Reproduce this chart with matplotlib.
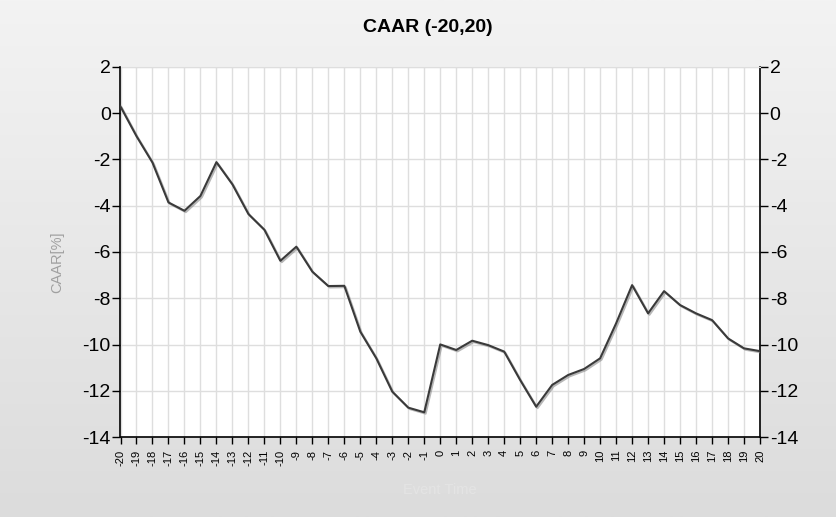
import numpy as np
import matplotlib
matplotlib.use("Agg")
import matplotlib.pyplot as plt
import matplotlib.patheffects as pe

event_time = list(range(-20, 21))
caar = [0.28, -1.0, -2.14, -3.86, -4.22, -3.58, -2.12, -3.08, -4.36, -5.04,
        -6.38, -5.77, -6.85, -7.47, -7.46, -9.44, -10.59, -12.03, -12.72, -12.92,
        -9.99, -10.23, -9.83, -10.02, -10.3, -11.53, -12.68, -11.74, -11.31, -11.05,
        -10.59, -9.08, -7.43, -8.65, -7.69, -8.29, -8.65, -8.94, -9.73, -10.16, -10.28]
y_ticks = [2, 0, -2, -4, -6, -8, -10, -12, -14]

plt.rcParams['font.family'] = ['Liberation Sans', 'DejaVu Sans']

W, H = 837, 517
fig = plt.figure(figsize=(W / 100, H / 100), dpi=100)

# background gradient
bg = fig.add_axes([0, 0, 1, 1], zorder=-10)
grad = np.linspace(0, 1, 256).reshape(-1, 1)
top_c = np.array([0xf3, 0xf3, 0xf3]) / 255
bot_c = np.array([0xdc, 0xdc, 0xdc]) / 255
img = top_c[None, None, :] * (1 - grad[:, :, None]) + bot_c[None, None, :] * grad[:, :, None]
bg.imshow(img, aspect='auto', extent=[0, 1, 0, 1])
bg.set_xlim(0, 1)
bg.set_ylim(0, 1)
bg.axis('off')

left, right = 120.5 / W, 760 / W
bottom, top = (H - 437.3) / H, (H - 66.7) / H
ax = fig.add_axes([left, bottom, right - left, top - bottom])
ax.set_facecolor('white')

ax.plot(event_time, caar, color='#3a3a3a', lw=1.5, zorder=5,
        path_effects=[pe.SimpleLineShadow(offset=(1, -1), shadow_color='#888888', alpha=0.6),
                      pe.Normal()])

ax.set_xlim(-20, 20)
ax.set_ylim(-14, 2)
ax.set_xticks(event_time)
ax.set_xticklabels([str(v) for v in event_time], rotation=90, fontsize=8)
ax.set_yticks(y_ticks)
ax.set_yticklabels([str(v) for v in y_ticks], fontsize=14)
ax.grid(True, color='#dedede', lw=1)
ax.set_axisbelow(True)

ax.tick_params(axis='y', which='both', left=True, right=True, labelleft=True, labelright=True,
               direction='out', length=6, width=1, colors='black', pad=1)
ax.tick_params(axis='x', direction='out', length=5, width=1, colors='black', pad=4)
for s in ['left', 'right', 'bottom']:
    ax.spines[s].set_color('black')
    ax.spines[s].set_linewidth(1.2)
ax.spines['top'].set_color('#dedede')

fig.text(427.5 / W, 1 - 27.5 / H, 'CAAR (-20,20)', ha='center', va='center', fontsize=14,
         fontweight='bold', family=['Liberation Sans', 'DejaVu Sans'])
fig.text(57 / W, 1 - 262 / H, 'CAAR[%]', ha='center', va='center', rotation=90,
         fontsize=10.5, color='#a0a0a0')
fig.text(440 / W, 1 - 490 / H, 'Event Time', ha='center', va='center',
         fontsize=10.5, color='#e4e4e4')

fig.savefig('out.png', dpi=100)
